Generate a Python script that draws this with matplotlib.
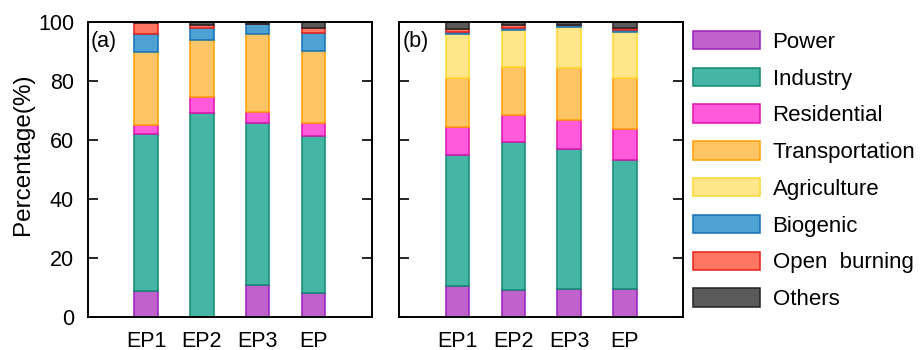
import numpy as np
import matplotlib.pyplot as plt
from matplotlib.patches import Patch

plt.rcParams['font.family'] = ['Liberation Sans', 'DejaVu Sans']

cases = ['EP1', 'EP2', 'EP3', 'EP']
sectors = ['Power', 'Industry', 'Residential', 'Transportation',
           'Agriculture', 'Biogenic', 'Open  burning', 'Others']

# (a) share of each sector, %
a_power = [8.8, 0.0, 10.7, 8.1]
a_industry = [53.1, 69.2, 55.1, 53.2]
a_residential = [3.1, 5.2, 3.6, 4.3]
a_transport = [24.8, 19.4, 26.3, 24.6]
a_agriculture = [0.0, 0.0, 0.0, 0.0]
a_biogenic = [5.9, 4.2, 3.5, 5.9]
a_openburn = [3.8, 0.9, 0.1, 1.9]
a_others = [0.5, 1.1, 0.7, 2.0]

# (b)
b_power = [10.4, 9.1, 9.3, 9.3]
b_industry = [44.5, 50.0, 47.7, 43.7]
b_residential = [9.5, 9.1, 9.7, 10.6]
b_transport = [16.4, 16.5, 17.5, 17.4]
b_agriculture = [14.9, 12.5, 14.1, 15.6]
b_biogenic = [0.7, 0.6, 0.5, 0.6]
b_openburn = [1.0, 1.1, 0.1, 0.6]
b_others = [2.6, 1.1, 1.1, 2.2]

fills = ['#bf62cc', '#45b5a5', '#ff5ad9', '#ffc466',
         '#ffe68a', '#4ea1d3', '#ff7763', '#5a5a5a']
edges = ['#9a1ec0', '#128a70', '#e010b0', '#ffa200',
         '#ffd830', '#1470b8', '#e8201a', '#222222']

panel_a = [a_power, a_industry, a_residential, a_transport,
           a_agriculture, a_biogenic, a_openburn, a_others]
panel_b = [b_power, b_industry, b_residential, b_transport,
           b_agriculture, b_biogenic, b_openburn, b_others]

fig = plt.figure(figsize=(9.22, 3.5), dpi=100)
ax1 = fig.add_axes([0.0954, 0.0951, 0.3077, 0.843])
ax2 = fig.add_axes([0.4331, 0.0951, 0.3077, 0.843])

x = np.arange(len(cases))
for ax, parts, tag in [(ax1, panel_a, '(a)'), (ax2, panel_b, '(b)')]:
    bottom = np.zeros(len(cases))
    for vals, fc, ec in zip(parts, fills, edges):
        vals = np.array(vals)
        ax.bar(x, vals, 0.42, bottom=bottom, color=fc, edgecolor=ec,
               linewidth=1.1, zorder=2)
        bottom += vals
    ax.set_xlim(-1.04, 3 + 1.04)
    ax.set_ylim(0, 100)
    ax.set_xticks(x)
    ax.set_xticklabels(cases, fontsize=15.5)
    ax.tick_params(axis='x', length=0, pad=10)
    ax.set_yticks([0, 20, 40, 60, 80, 100])
    ax.tick_params(axis='y', direction='in', length=7, width=1.2, pad=10,
                   right=True, labelsize=15.5)
    for s in ax.spines.values():
        s.set_linewidth(1.4)
    ax.text(0.01, 0.97, tag, transform=ax.transAxes, fontsize=15.5,
            va='top', ha='left')

ax2.tick_params(axis='y', labelleft=False)
ax1.set_ylabel('Percentage(%)', fontsize=17.5)
ax1.yaxis.set_label_coords(-0.19, 0.55)

handles = [Patch(facecolor=fc, edgecolor=ec, linewidth=1.1)
           for fc, ec in zip(fills, edges)]
fig.legend(handles, sectors, loc='upper left', bbox_to_anchor=(0.742, 0.937),
           frameon=False, fontsize=16, handlelength=3.0, handleheight=0.9,
           handletextpad=0.58, labelspacing=0.67, borderaxespad=0)

fig.savefig('out.png', dpi=100)
